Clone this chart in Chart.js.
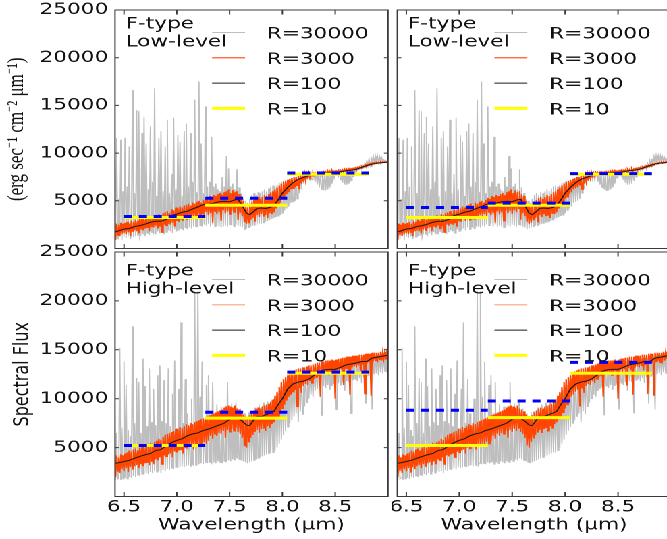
<!DOCTYPE html>
<html>
<head>
<meta charset="utf-8">
<title>F-type spectra</title>
<script src="https://cdn.jsdelivr.net/npm/chart.js@4.4.1/dist/chart.umd.min.js"></script>
<style>
  html, body { margin: 0; padding: 0; background: #fff; overflow: hidden; }
  #page { position: relative; width: 667px; height: 539px; overflow: hidden; }
  /* the original figure is stretched sideways: draw narrow, then widen */
  #fig { position: absolute; left: 0; top: 0; width: 500px; height: 539px; transform: scaleX(1.35); transform-origin: 0 0; }
  #fig canvas { position: absolute; }
</style>
</head>
<body>
<div id="page"><div id="fig">
  <canvas id="topLeft" width="290" height="250" style="left:0;top:0"></canvas>
  <canvas id="topRight" width="210" height="250" style="left:290px;top:0"></canvas>
  <canvas id="bottomLeft" width="290" height="301" style="left:0;top:238px"></canvas>
  <canvas id="bottomRight" width="210" height="301" style="left:290px;top:238px"></canvas>
</div></div>
<script>
// high resolution spectra are sampled on a regular wavelength grid (micron)
const gridStart = 6.41;
const gridStep = 0.01;

const lowR30000 = [
  13000, 1200, 11600, 1000, 5200, 1300, 11400, 900, 6000, 1200,
  11600, 1100, 6500, 1300, 10700, 1000, 1500, 16600, 1200, 5800,
  1300, 14500, 1400, 14400, 1200, 1600, 12100, 1500, 13800, 1300,
  11000, 1600, 6200, 1400, 12800, 1700, 7000, 1500, 16800, 1500,
  5500, 1800, 11600, 1600, 12300, 1800, 6000, 1500, 10700, 1700,
  13500, 1900, 5800, 1800, 7800, 1600, 13700, 2000, 6200, 1800,
  11900, 1900, 11200, 2100, 5500, 1900, 12300, 2200, 13100, 2000,
  6500, 2200, 12100, 2100, 7000, 2300, 15600, 2300, 5900, 2200,
  17500, 2400, 11000, 2300, 5800, 2500, 14900, 2400, 6500, 2600,
  7000, 2300, 11700, 2500, 6500, 2300, 6800, 2400, 6200, 2300,
  6000, 2200, 7500, 2300, 6500, 2400, 9700, 2300, 8400, 2500,
  6500, 2400, 6800, 2300, 6200, 2500, 8300, 2400, 6400, 2300,
  5800, 2200, 5200, 2000, 5000, 2100, 4800, 2200, 5200, 2300,
  5600, 2400, 5800, 2400, 5600, 2500, 5900, 2600, 5800, 2600,
  6000, 2700, 6200, 2800, 6000, 2900, 6300, 3000, 6500, 3100,
  6600, 3200, 6500, 3300, 6700, 3400, 6900, 3500, 7000, 3700,
  7100, 4000, 7000, 4200, 7200, 4400, 7300, 4800, 7300, 4900,
  7400, 5000, 7500, 5200, 7500, 5800, 7600, 6200, 7600, 6800,
  7700, 7200, 7700, 7500, 7800, 7400, 7800, 7200, 7600, 7800,
  7000, 7900, 6700, 7900, 6400, 7900, 6200, 7900, 6100, 7950,
  6100, 7950, 6200, 7950, 6400, 8000, 6800, 8000, 7400, 8000,
  7800, 8050, 7600, 8100, 7200, 8100, 6900, 8150, 6700, 8200,
  6700, 8200, 6800, 8250, 7100, 8300, 7500, 8350, 8000, 8400,
  8200, 8450, 8300, 8550, 8400, 8700, 8500, 8900, 8600, 9200,
  8700, 9400, 8800, 9600, 8900, 9700, 9000, 9700, 9000, 9700,
  9050, 9600, 9100, 9500, 9100, 9300, 9100, 9200, 9100, 9100
];

const lowR3000 = [
  3500, 900, 2600, 1400, 2500, 1300, 2700, 1500, 2600, 1600,
  2700, 1500, 2800, 1700, 2600, 1300, 2900, 1800, 2800, 1900,
  3000, 1800, 2900, 1600, 3100, 2000, 3200, 1900, 3000, 2100,
  3300, 2200, 3100, 1800, 3400, 2300, 3300, 2200, 3500, 2400,
  3400, 2100, 3600, 2300, 3500, 1700, 3700, 2500, 3800, 2400,
  3900, 2600, 3700, 2500, 4100, 2700, 4000, 2300, 4300, 2900,
  4200, 2800, 4400, 3100, 4300, 2900, 4500, 3200, 4600, 3000,
  4700, 3300, 4500, 3100, 4800, 3400, 4700, 3200, 4900, 3500,
  5000, 3300, 4800, 3600, 5100, 3400, 5300, 3800, 5200, 3500,
  5500, 3700, 5400, 2700, 5600, 3900, 5500, 3600, 5700, 3800,
  5800, 2900, 5600, 4000, 5900, 3700, 6000, 3900, 6200, 3600,
  5800, 4000, 6100, 3800, 5900, 4200, 6000, 3000, 5700, 3700,
  5500, 3400, 5000, 2800, 4600, 2600, 4300, 2700, 4500, 3000,
  4800, 3200, 5100, 2800, 5300, 3500, 5400, 3300, 5200, 3600,
  5400, 3400, 5600, 3500, 5500, 3200, 5700, 3700, 5900, 3600,
  6000, 3800, 6200, 4200, 6400, 4500, 6600, 4800, 6800, 5200,
  7000, 5400, 7100, 5700, 7200, 5900, 7300, 6200, 7400, 6300,
  7500, 6400, 7500, 6600, 7600, 6200, 7700, 6800, 7700, 7000,
  7800, 7100, 7800, 7300, 7900, 7400, 7900, 7600, 7950, 7700,
  7950, 7800, 8000, 7750, 8000, 7850, 8000, 7800, 8050, 7850,
  8050, 7900, 8100, 7850, 8100, 7900, 8150, 7900, 8100, 7950,
  8150, 8000, 8200, 7950, 8200, 8050, 8250, 8000, 8300, 8100,
  8300, 8150, 8350, 8100, 8350, 8200, 8400, 8250, 8450, 8300,
  8500, 8350, 8550, 8400, 8600, 8450, 8650, 8550, 8750, 8600,
  8800, 8700, 8900, 8750, 8950, 8850, 9000, 8900, 9050, 8950,
  9050, 8950, 9100, 9000, 9100, 9050, 9100, 9050, 9100, 9100
];

const highR30000 = [
  13400, 1700, 6500, 1800, 1900, 15200, 1700, 7000, 1800, 13800,
  1900, 11400, 1800, 6800, 2000, 6200, 1900, 17400, 2100, 7500,
  2000, 12100, 2200, 11700, 2100, 6500, 2300, 14100, 2200, 11300,
  2400, 7200, 2300, 13100, 2500, 7600, 2400, 11000, 2600, 7300,
  2500, 12400, 2600, 13400, 2400, 7700, 2700, 11900, 2600, 7500,
  2800, 13100, 2700, 7200, 2900, 10500, 2800, 13900, 3000, 7000,
  2900, 11000, 3000, 17800, 3100, 7500, 3000, 12000, 3100, 8500,
  3200, 7200, 3100, 10000, 3300, 3200, 21000, 3200, 3400, 21000,
  3300, 10200, 3400, 13800, 3300, 7800, 3500, 11400, 3400, 12400,
  3500, 8600, 3300, 11700, 3500, 7800, 3400, 9400, 3600, 8200,
  3500, 9200, 3400, 8000, 3600, 9300, 3500, 11700, 3700, 8400,
  3600, 9500, 3800, 8200, 3700, 9600, 3900, 8300, 3800, 9000,
  3700, 8400, 3600, 8500, 3500, 7900, 3400, 8600, 3500, 8700,
  3600, 8200, 3700, 9100, 3800, 8600, 3900, 9400, 4000, 9000,
  4100, 9600, 4200, 9200, 4300, 9700, 4400, 9300, 4500, 9900,
  4500, 10000, 4700, 10300, 5000, 10600, 5400, 10900, 5800, 11200,
  6300, 11400, 6700, 11700, 7100, 11900, 7500, 12100, 7800, 12300,
  8200, 12400, 8500, 12500, 7600, 12500, 8700, 12600, 8400, 12700,
  9200, 12800, 9600, 12900, 10000, 13000, 10400, 12900, 10200, 13100,
  10800, 13200, 11000, 13300, 11200, 13300, 8300, 13400, 11300, 13400,
  11100, 13500, 11400, 13500, 10900, 13400, 11300, 13600, 11500, 13500,
  8900, 13600, 11600, 13700, 11400, 13700, 11700, 13800, 10800, 13800,
  11800, 13900, 11700, 13900, 8500, 14000, 11900, 14000, 12000, 14000,
  11800, 14100, 12100, 14100, 11600, 14200, 12200, 14200, 9500, 14300,
  12300, 14300, 12400, 14300, 8900, 14400, 12500, 14400, 12600, 14500,
  12400, 14500, 12700, 14500, 12600, 14600, 12800, 14600, 12700, 14600
];

const highR3000 = [
  5100, 2000, 4200, 2600, 4000, 2400, 4300, 2800, 4200, 2600,
  4400, 2900, 4500, 2500, 4700, 3000, 4600, 2800, 4800, 3100,
  4900, 3200, 4700, 2900, 5000, 3300, 5100, 3100, 5000, 3400,
  5300, 3500, 5200, 3200, 5500, 3600, 5400, 3300, 5600, 3800,
  5700, 3700, 5900, 4000, 5800, 3300, 6100, 4200, 6300, 4100,
  6400, 4300, 6500, 4400, 6600, 4000, 6700, 4600, 6900, 4500,
  6900, 4700, 7100, 4800, 7000, 4400, 7200, 5000, 7400, 4900,
  7300, 5100, 7500, 5200, 7400, 4800, 7600, 5300, 7700, 5200,
  7800, 5400, 7900, 5300, 8000, 5600, 8100, 5400, 8200, 5700,
  8300, 6200, 8400, 5900, 8500, 6400, 8600, 6200, 8700, 6500,
  8800, 6400, 8900, 6700, 9100, 6000, 9200, 6800, 9300, 6600,
  9200, 6900, 9100, 6700, 9300, 7000, 9000, 6600, 8900, 6400,
  8700, 6000, 8400, 5200, 8200, 5000, 8100, 5600, 8300, 6000,
  8600, 6300, 8800, 6600, 9000, 6800, 9100, 6500, 9000, 6900,
  9200, 7000, 9300, 6700, 9400, 7200, 9500, 7000, 9700, 7400,
  9900, 7600, 10300, 7900, 10700, 8200, 11200, 8600, 11700, 9000,
  12000, 9400, 12200, 9800, 12400, 10200, 12600, 10400, 12800, 10700,
  12900, 10900, 13000, 9200, 13100, 11100, 13100, 10600, 13200, 11300,
  13200, 11500, 13300, 11400, 13400, 11800, 13400, 11600, 13500, 12000,
  13600, 12200, 13700, 12300, 13700, 10200, 13800, 12600, 13800, 12500,
  13900, 12700, 13900, 12400, 13900, 12600, 14000, 12800, 13900, 10000,
  14000, 12900, 14100, 12700, 14100, 13000, 14200, 11400, 14200, 13100,
  14300, 13000, 14300, 10400, 14300, 13200, 14400, 13300, 14400, 13200,
  14400, 13400, 14500, 12900, 14500, 13500, 14500, 10500, 14600, 13600,
  14600, 13700, 14600, 10300, 14700, 13800, 14700, 13900, 14700, 13700,
  14700, 14000, 14800, 13900, 14800, 14100, 14800, 14000, 14800, 14200
];

// R=100 curves
const r100Wavelength = [6.415, 6.45, 6.5, 6.55, 6.6, 6.65, 6.7, 6.75, 6.8, 6.85,
  6.9, 6.95, 7.0, 7.05, 7.1, 7.15, 7.2, 7.25, 7.3, 7.35, 7.4, 7.45, 7.5, 7.55,
  7.58, 7.62, 7.66, 7.69, 7.72, 7.76, 7.8, 7.84, 7.88, 7.92, 7.96,
  8.0, 8.05, 8.1, 8.15, 8.2, 8.25, 8.3, 8.35, 8.4, 8.45, 8.5, 8.55, 8.6, 8.65,
  8.7, 8.75, 8.8, 8.85, 8.9, 8.95, 9.0];
const lowR100 = [1750, 1850, 2050, 2100, 2300, 2400, 2550, 2750, 2850, 2850,
  3050, 3450, 3600, 3800, 3900, 4150, 4350, 4600, 4650, 4750, 4900, 4950, 4900, 5100,
  5150, 4500, 3700, 3550, 3800, 4200, 4250, 4200, 4300, 4500, 5100,
  5800, 6400, 6900, 7250, 7450, 7650, 7800, 7850, 7900, 7950, 7950, 8050, 8150, 8200,
  8300, 8500, 8700, 8850, 8950, 9000, 9050];
const highR100 = [3400, 3450, 3580, 3700, 3900, 4100, 4270, 4400, 4700, 4800,
  5200, 5500, 5750, 5900, 6200, 6400, 6500, 6750, 6900, 7100, 7300, 7500, 7900, 8100,
  8000, 7700, 7300, 7250, 7700, 8200, 8150, 8350, 8500, 8700, 9400,
  10000, 11000, 11500, 11700, 11800, 12000, 12400, 12800, 12950, 13000, 13000, 13200, 13450, 13550,
  13650, 13800, 13800, 14150, 14250, 14350, 14450];

// R=10 bins and the blue dashed levels of each panel
const binEdges = [6.5, 7.27, 8.045, 8.82];
const lowR10 = [3250, 4540, 7780];
const lowBlueLeft = [3360, 5270, 7910];
const lowBlueRight = [4300, 4750, 7850];
const highR10Left = [5210, 8020, 12600];
const highR10Right = [5210, 8060, 12600];
const highBlueLeft = [5210, 8620, 12720];
const highBlueRight = [8820, 9760, 13720];

const legendLabels = ['R=30000', 'R=3000', 'R=100', 'R=10'];
const xTickStep = 0.5;
const yTickStep = 5000;
const yMax = 25000;

Chart.defaults.font.family = '"DejaVu Sans", sans-serif';
Chart.defaults.font.size = 16;
Chart.defaults.color = '#111';

function spectrum(values) {
  return values.map((v, i) => ({x: +(gridStart + i * gridStep).toFixed(3), y: v}));
}

function smooth(values) {
  return values.map((v, i) => ({x: r100Wavelength[i], y: v}));
}

function steps(values) {
  const pts = [];
  values.forEach((v, i) => {
    pts.push({x: binEdges[i], y: v}, {x: binEdges[i + 1], y: v});
    if (i < values.length - 1) pts.push({x: binEdges[i + 1], y: null});
  });
  return pts;
}

// force axis sizes so the four plot boxes line up
function fixWidth(w) {
  return s => { s.width = w; s.paddingTop = s.paddingBottom = s.paddingLeft = s.paddingRight = 0; };
}
function fixHeight(h) {
  return s => { s.height = h; s.paddingTop = s.paddingBottom = s.paddingLeft = s.paddingRight = 0; };
}

// frame, inward ticks and the legend box
const panelDecor = {
  id: 'panelDecor',
  afterDatasetsDraw(chart, args, opts) {
    const {ctx, chartArea: a} = chart;
    const x = chart.scales.x, y = chart.scales.y;
    ctx.save();
    ctx.strokeStyle = '#3a3a3a';
    ctx.lineWidth = 1;
    ctx.strokeRect(a.left, a.top, a.width, a.height);
    ctx.beginPath();
    x.ticks.forEach(t => {
      const px = x.getPixelForValue(t.value);
      if (px <= a.left + 1 || px >= a.right - 1) return;
      ctx.moveTo(px, a.bottom); ctx.lineTo(px, a.bottom - 4.5);
      ctx.moveTo(px, a.top); ctx.lineTo(px, a.top + 4.5);
    });
    y.ticks.forEach(t => {
      const py = y.getPixelForValue(t.value);
      if (py <= a.top + 1 || py >= a.bottom - 1) return;
      ctx.moveTo(a.left, py); ctx.lineTo(a.left + 3, py);
      ctx.moveTo(a.right, py); ctx.lineTo(a.right - 3, py);
    });
    ctx.stroke();

    ctx.fillStyle = '#111';
    ctx.font = '16px "DejaVu Sans"';
    ctx.textAlign = 'left';
    ctx.textBaseline = 'alphabetic';
    ctx.fillText('F-type', a.left + 7.8, a.top + 18.3 + opts.dy);
    ctx.fillText(opts.level, a.left + 7.8, a.top + 36.7 + opts.dy);

    chart.data.datasets.filter(d => !d.hideLegend).forEach((d, i) => {
      const ly = a.top + 22.5 + opts.dy + i * 25.3;
      ctx.strokeStyle = d.legendColor || d.borderColor;
      ctx.lineWidth = d.borderWidth;
      ctx.beginPath();
      ctx.moveTo(a.left + 71.9, ly);
      ctx.lineTo(a.left + 96.3, ly);
      ctx.stroke();
      ctx.fillText(d.label, a.left + 112.4, ly + 6);
    });
    ctx.restore();
  }
};

const panels = [
  {id: 'topLeft', r30000: lowR30000, r3000: lowR3000, r100: lowR100, r10: lowR10, blue: lowBlueLeft,
   level: 'Low-level', dy: 0, showX: false, showY: true, padding: {top: 10, right: 2.6, left: 0, bottom: 0},
   yw: 85.2, xh: 1.5, yTitle: '(erg sec\u207B\u00B9 cm\u207B\u00B2 \u03BCm\u207B\u00B9)',
   yFont: {family: '"Liberation Serif", serif', size: 17}, yPad: 2.2},
  {id: 'topRight', r30000: lowR30000, r3000: lowR3000, r100: lowR100, r10: lowR10, blue: lowBlueRight,
   level: 'Low-level', dy: 0, showX: false, showY: false, padding: {top: 10, right: 3, left: 0, bottom: 0},
   yw: 4.3, xh: 1.5},
  {id: 'bottomLeft', r30000: highR30000, r3000: highR3000, r100: highR100, r10: highR10Left, blue: highBlueLeft,
   level: 'High-level', dy: 5, showX: true, showY: true, padding: {top: 14, right: 2.6, left: 0, bottom: 0},
   yw: 85.2, xh: 42.5, yTitle: 'Spectral Flux', yFont: {size: 16}, yPad: 7.4, legendOrange: 'rgba(255,69,0,0.5)'},
  {id: 'bottomRight', r30000: highR30000, r3000: highR3000, r100: highR100, r10: highR10Right, blue: highBlueRight,
   level: 'High-level', dy: 5, showX: true, showY: false, padding: {top: 14, right: 3, left: 0, bottom: 0},
   yw: 4.3, xh: 42.5, legendOrange: 'rgba(255,69,0,0.5)'}
];

panels.forEach(p => {
  new Chart(document.getElementById(p.id), {
    type: 'line',
    data: {
      datasets: [
        {label: legendLabels[0], data: spectrum(p.r30000), borderColor: '#bebebe', borderWidth: 0.9, order: 5,
         legendColor: '#bebebe'},
        {label: legendLabels[1], data: spectrum(p.r3000), borderColor: '#ff4500', borderWidth: 1.1, order: 4,
         legendColor: p.legendOrange},
        {label: legendLabels[2], data: smooth(p.r100), borderColor: '#1a1a1a', borderWidth: 1, order: 3},
        {label: legendLabels[3], data: steps(p.r10), borderColor: '#ffff00', borderWidth: 3, order: 2},
        {label: 'input', data: steps(p.blue), borderColor: '#0000ff', borderWidth: 3, borderDash: [6, 5],
         order: 1, hideLegend: true}
      ]
    },
    options: {
      responsive: false,
      animation: false,
      devicePixelRatio: 2,
      events: [],
      layout: {padding: p.padding},
      elements: {point: {radius: 0}, line: {tension: 0, borderCapStyle: 'butt'}},
      plugins: {
        legend: {display: false},
        tooltip: {enabled: false},
        panelDecor: {dy: p.dy, level: p.level}
      },
      scales: {
        x: {
          type: 'linear', min: 6.415, max: 9.0,
          grid: {display: false, drawTicks: false}, border: {display: false},
          ticks: {display: p.showX, stepSize: xTickStep, includeBounds: false, autoSkip: false, maxRotation: 0,
                  padding: 1, callback: v => v > 8.9 ? '' : v.toFixed(1)},
          title: {display: p.showX, text: 'Wavelength (\u03BCm)', padding: {top: 0, bottom: 4}},
          afterFit: fixHeight(p.xh)
        },
        y: {
          min: 0, max: yMax,
          grid: {display: false, drawTicks: false}, border: {display: false},
          ticks: {display: p.showY, stepSize: yTickStep, padding: 5, callback: v => v === 0 ? '' : String(v)},
          title: {display: !!p.yTitle, text: p.yTitle, font: p.yFont, padding: {top: p.yPad || 0, bottom: 0}},
          afterFit: fixWidth(p.yw)
        }
      }
    },
    plugins: [panelDecor]
  });
});
</script>
</body>
</html>
